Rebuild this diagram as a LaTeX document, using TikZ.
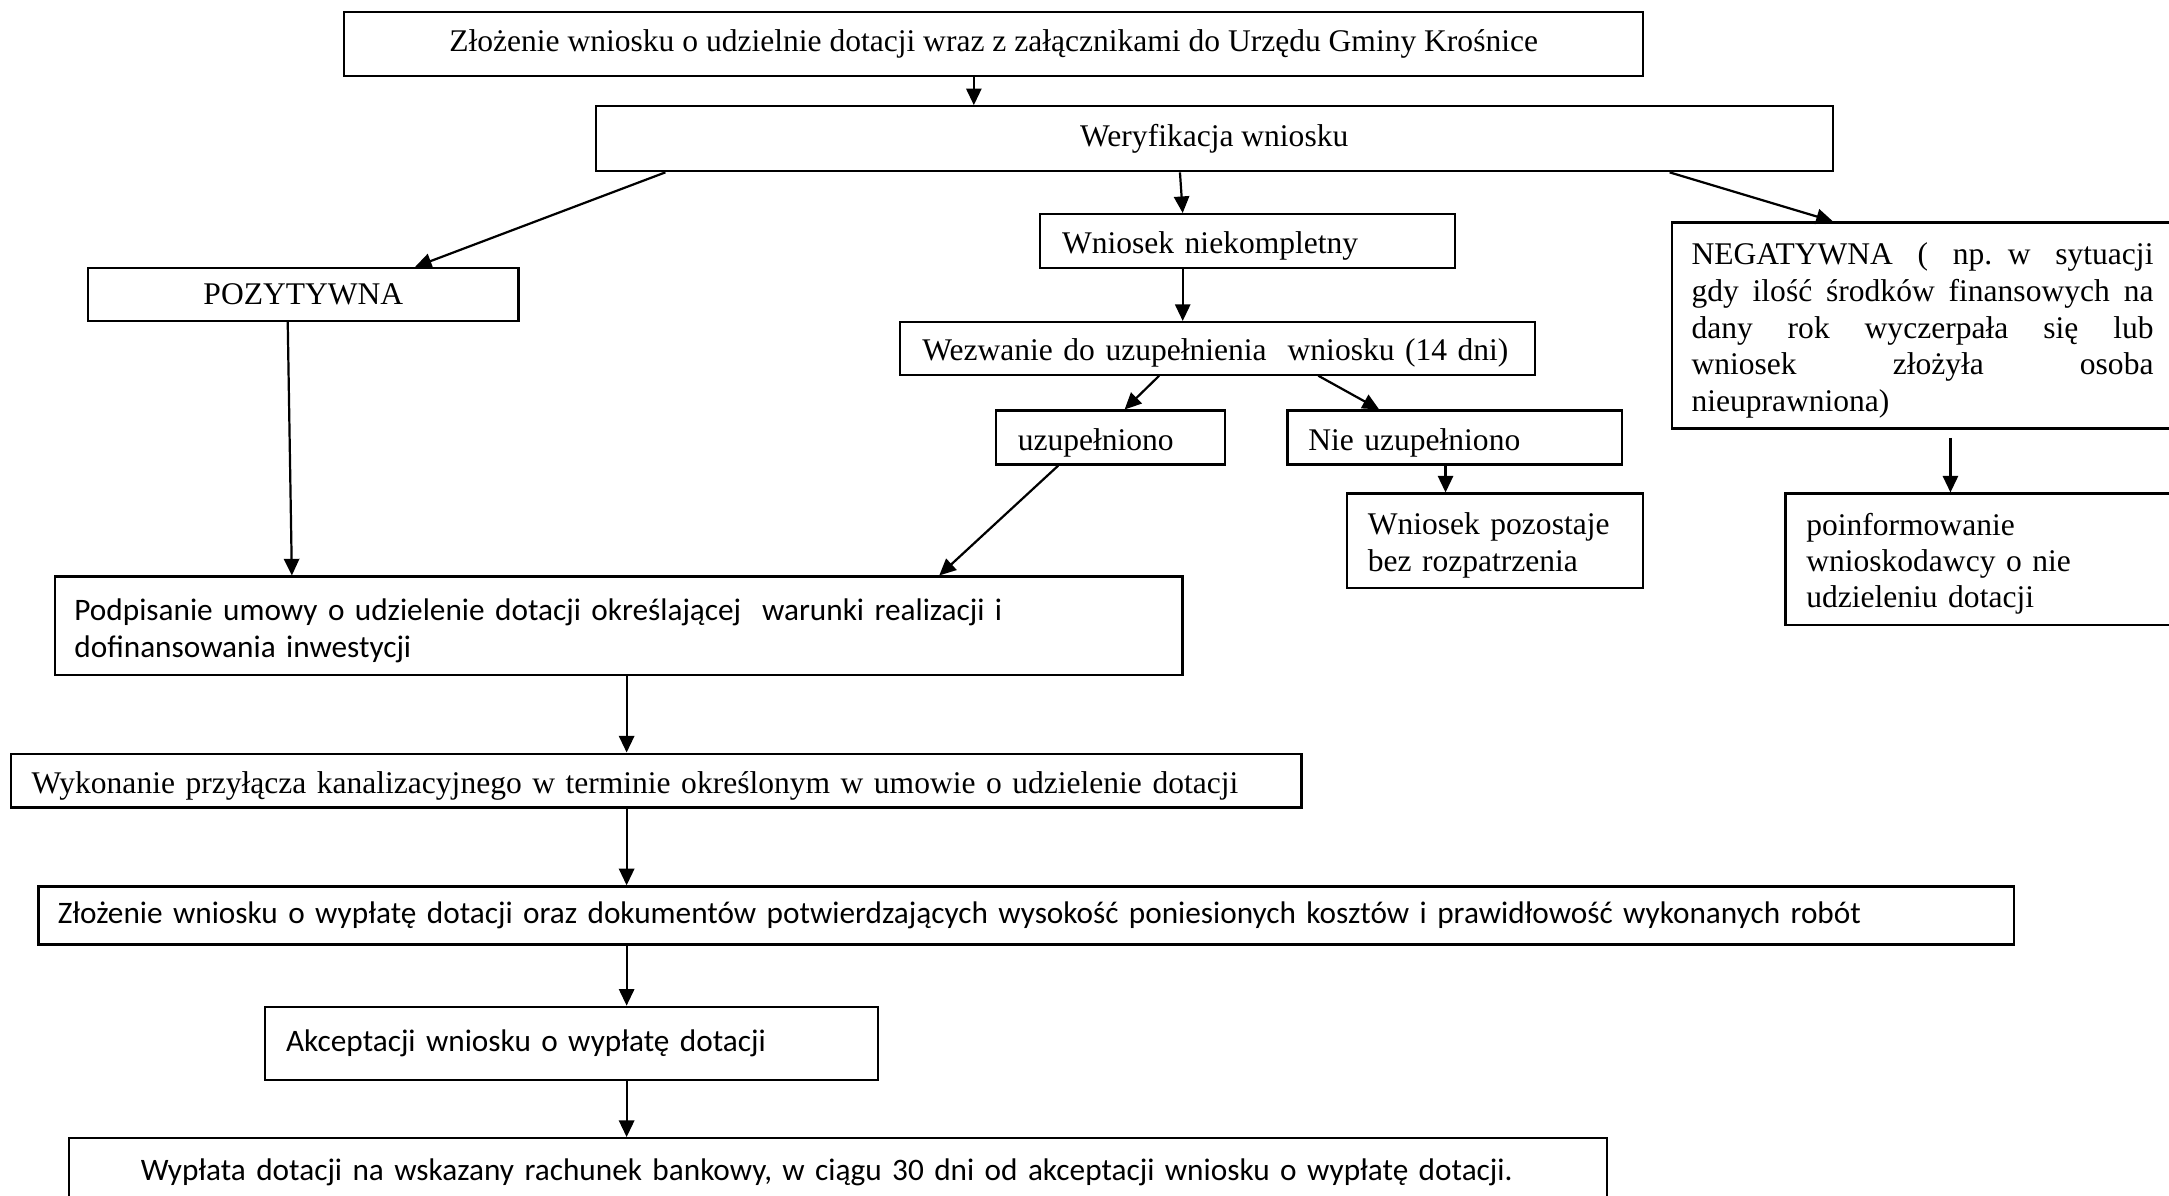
\documentclass[tikz,border=0pt]{standalone}
\usepackage{fontspec}
\setmainfont{Liberation Serif}
\newfontfamily\calibri{Carlito}
\usetikzlibrary{arrows.meta}

\newcommand{\justline}[1]{\makebox[167pt][s]{\spaceskip=.25em plus 1fil #1}}

\begin{document}
\begin{tikzpicture}[x=0.5pt, y=-0.5pt,
        box/.style={draw, line width=0.8pt, rectangle, anchor=north west, inner ysep=0pt,
            font=\fontsize{11.4pt}{13.5pt}\selectfont},
        lbox/.style={box, align=left, text height=11.5pt},
        sbox/.style={box, align=left, font=\calibri\fontsize{11.3pt}{13.5pt}\selectfont},
        arr/.style={-{Triangle[length=6pt, width=5.5pt]}, line width=0.8pt}]
        \useasboundingbox (0,0) rectangle (1568,864);
        \fill[white] (0,0) rectangle (1568,864);

        \node[box, minimum width=469.5pt, minimum height=23pt] (zlozenie) at (248,8)
            {Złożenie wniosku o udzielnie dotacji wraz z załącznikami do Urzędu Gminy Krośnice};
        \node[box, minimum width=447pt, minimum height=23.5pt] (weryf) at (430,76)
            {Weryfikacja wniosku};
        \node[box, minimum width=155.5pt, minimum height=19pt] (pozyt) at (63,193)
            {POZYTYWNA};
        \node[lbox, minimum height=19.5pt, inner xsep=8pt, text width=134pt] (niekompl) at (751,154)
            {Wniosek niekompletny};
        \node[lbox, minimum height=19pt, inner xsep=8pt, text width=213.5pt] (wezw) at (650,232)
            {Wezwanie do uzupełnienia\ \ wniosku (14~dni)};
        \node[lbox, minimum height=19.5pt, inner xsep=8pt, text width=67pt] (uzup) at (719,296)
            {uzupełniono};
        \node[lbox, minimum height=19.5pt, inner xsep=7.5pt, text width=106pt] (nieuzup) at (930,296)
            {Nie uzupełniono};
        \node[lbox, minimum height=34pt, inner xsep=7.5pt, text width=92pt] (pozost) at (973,356)
            {Wniosek pozostaje\\bez rozpatrzenia};
        \node[lbox, minimum height=74.5pt, inner xsep=7pt, text width=176pt,
            font=\fontsize{11.4pt}{13.25pt}\selectfont] (negat) at (1208,160)
            {\justline{NEGATYWNA ( np. w sytuacji}\\
             \justline{gdy ilość środków finansowych na}\\
             \justline{dany rok wyczerpała się lub}\\
             \justline{wniosek złożyła osoba}\\
             nieuprawniona)};
        \node[lbox, minimum height=47.5pt, inner xsep=7.5pt, text width=145pt,
            font=\fontsize{11.4pt}{13pt}\selectfont] (poinf) at (1290,356)
            {poinformowanie\\wnioskodawcy o nie\\udzieleniu dotacji};
        \node[sbox, text height=11.5pt, minimum height=35.5pt, inner xsep=7pt, text width=393.5pt] (podpis) at (39,416)
            {Podpisanie umowy o udzielenie dotacji określającej\ \ warunki realizacji i\\dofinansowania inwestycji};
        \node[lbox, minimum height=19.5pt, inner xsep=7.5pt, text width=451.5pt] (wykon) at (7,544)
            {Wykonanie przyłącza kanalizacyjnego w terminie określonym w umowie o udzielenie dotacji};
        \node[sbox, minimum height=21pt, inner xsep=7pt, text width=700pt] (wyplwn) at (27,640)
            {Złożenie wniosku o wypłatę dotacji oraz dokumentów potwierdzających wysokość poniesionych kosztów i prawidłowość wykonanych robót};
        \node[sbox, minimum height=26.5pt, inner xsep=7.5pt, text width=206.5pt] (akcept) at (191,727)
            {Akceptacji wniosku o wypłatę dotacji};
        \node[sbox, minimum height=25pt, inner xsep=26pt, text width=504pt] (wyplata) at (49,822)
            {Wypłata dotacji na wskazany rachunek bankowy, w ciągu 30 dni od akceptacji wniosku o wypłatę dotacji.};

        \draw[arr] ([xshift=228pt]zlozenie.south west) -- ([xshift=137pt]weryf.north west);
        \draw[arr] ([xshift=25.5pt]weryf.south west) -- ([xshift=118.5pt]pozyt.north west);
        \draw[arr] ([xshift=211.5pt]weryf.south west) -- ([xshift=52pt]niekompl.north west);
        \draw[arr] ([xshift=388.5pt]weryf.south west) -- ([xshift=58.5pt]negat.north west);
        \draw[arr] ([xshift=52pt]niekompl.south west) -- ([xshift=102.5pt]wezw.north west);
        \draw[arr] ([xshift=94pt]wezw.south west) -- ([xshift=47pt]uzup.north west);
        \draw[arr] ([xshift=151.5pt]wezw.south west) -- ([xshift=33.5pt]nieuzup.north west);
        \draw[arr] ([xshift=57.5pt]nieuzup.south west) -- ([xshift=36pt]pozost.north west);
        \draw[arr] ([xshift=101pt, yshift=-3pt]negat.south west) -- ([xshift=60pt]poinf.north west);
        \draw[arr] ([xshift=72.5pt]pozyt.south west) -- ([xshift=86pt]podpis.north west);
        \draw[arr] ([xshift=23pt]uzup.south west) -- ([xshift=320pt]podpis.north west);

        \coordinate (spine) at (453,0);
        \foreach \a/\b in {podpis/wykon, wykon/wyplwn, wyplwn/akcept, akcept/wyplata} {
            \draw[arr] (\a.south -| spine) -- (\b.north -| spine);
        }
    \end{tikzpicture}
\end{document}
